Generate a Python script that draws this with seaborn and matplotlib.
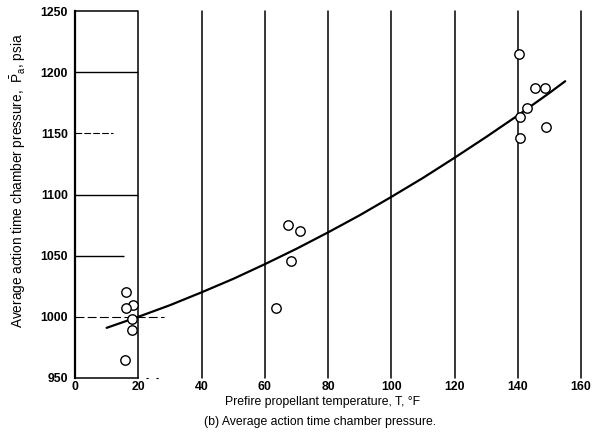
import matplotlib
matplotlib.use("Agg")
import matplotlib.pyplot as plt
import seaborn as sns
import pandas as pd

# Test data: prefire propellant temperature vs. average action-time chamber pressure
temp_F = [16.1, 18.4, 16.1, 18.1, 17.9, 15.8,
          67.5, 71.3, 68.3, 63.6,
          140.5, 145.6, 148.5, 142.9, 140.8, 149.0, 140.6]
pressure_psia = [1020, 1010, 1007, 998, 989, 965,
                 1075, 1070, 1046, 1007,
                 1215, 1187, 1187, 1171, 1163, 1155, 1146]

# Faired curve through the data
curve_T = [10, 20, 30, 40, 50, 60, 70, 80, 90, 100, 110, 120, 130, 140, 150, 155]
curve_P = [991, 1000, 1009.5, 1020, 1031, 1043, 1055.6, 1069, 1083, 1098,
           1113.5, 1130, 1147, 1164.6, 1183, 1192.6]

x_ticks = [0, 20, 40, 60, 80, 100, 120, 140, 160]
y_ticks = [950, 1000, 1050, 1100, 1150, 1200, 1250]

points = pd.DataFrame({"T": temp_F, "P": pressure_psia})
curve = pd.DataFrame({"T": curve_T, "P": curve_P})

sns.set_theme(style="white")
FONT = ["Liberation Sans", "DejaVu Sans"]
plt.rcParams["font.family"] = FONT
plt.rcParams["mathtext.fontset"] = "custom"
plt.rcParams["mathtext.rm"] = "Liberation Sans"
plt.rcParams["mathtext.it"] = "Liberation Sans"

W, H = 602, 443
fig = plt.figure(figsize=(W / 100, H / 100), dpi=100)
fig.patch.set_facecolor("white")

x0, x1, ytop, ybot = 75, 581, 11, 378
ax = fig.add_axes([x0 / W, 1 - ybot / H, (x1 - x0) / W, (ybot - ytop) / H])
ax.set_xlim(0, 160)
ax.set_ylim(950, 1250)

# graph-paper rulings
for xv in x_ticks[1:]:
    ax.axvline(xv, color="black", lw=1.1, clip_on=False, zorder=1)
ax.hlines(1250, 0, 20, color="black", lw=1.1, clip_on=False)
ax.hlines([1200, 1100], 0, 20, color="black", lw=1.0)
ax.hlines(1050, 0, 15.5, color="black", lw=1.0)
ax.hlines(1150, 0, 12, color="black", lw=0.8, linestyles=(0, (6, 2)))
ax.hlines(1000, 0, 28, color="black", lw=0.8, linestyles=(0, (8, 3)))
ax.hlines(950, 22.5, 28.5, color="black", lw=0.8, linestyles=(0, (2, 7)),
          clip_on=False)

sns.lineplot(data=curve, x="T", y="P", ax=ax, color="black", lw=1.6,
             estimator=None, sort=False, zorder=2)
sns.scatterplot(data=points, x="T", y="P", ax=ax, marker="o", s=46,
                facecolor="white", edgecolor="black", linewidth=1.0, zorder=3)

for side in ("top", "right"):
    ax.spines[side].set_visible(False)
ax.spines["left"].set_linewidth(1.6)
ax.spines["left"].set_color("black")
ax.spines["bottom"].set_linewidth(1.1)
ax.spines["bottom"].set_color("black")
ax.spines["bottom"].set_bounds(0, 20)

ax.set_xticks(x_ticks)
ax.set_yticks(y_ticks)
ax.set_xticklabels([str(v) for v in x_ticks], fontweight="bold", fontsize=8.8)
ax.set_yticklabels([str(v) for v in y_ticks], fontweight="bold", fontsize=8.8)
ax.tick_params(axis="x", length=0, pad=2, colors="black")
ax.tick_params(axis="y", length=0, pad=5, colors="black")
ax.set_xlabel("")
ax.set_ylabel("")

fig.text(323 / W, 1 - 402.5 / H, "Prefire propellant temperature, T, \u00b0F",
         ha="center", va="center", fontsize=8.8, color="black")
fig.text(320 / W, 1 - 421.5 / H, "(b) Average action time chamber pressure.",
         ha="center", va="center", fontsize=8.8, color="black")
fig.text(18 / W, 1 - 181 / H,
         r"Average action time chamber pressure,  $\bar{\mathrm{P}}_{\mathrm{a}}$, psia",
         ha="center", va="center", rotation=90, fontsize=9.8, color="black")

fig.savefig("out.png", dpi=100, facecolor="white")
